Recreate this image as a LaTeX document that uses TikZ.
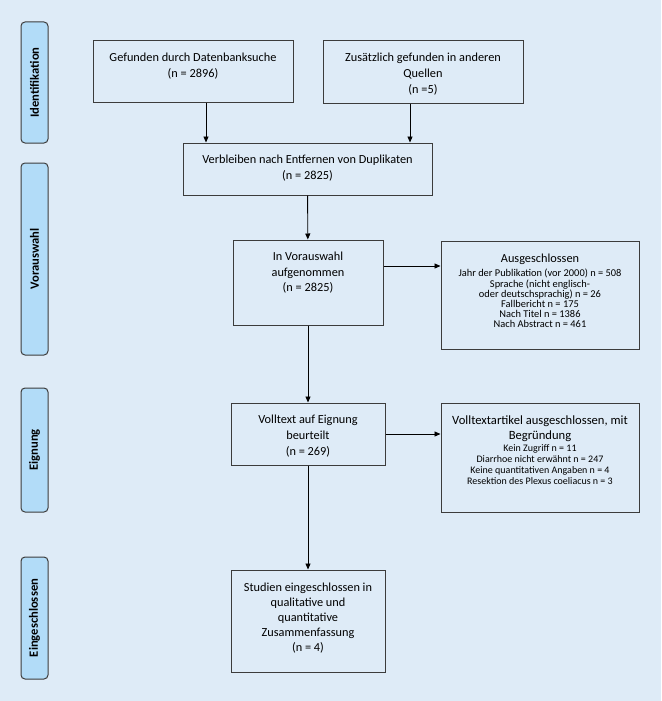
\documentclass[tikz,border=0pt]{standalone}
\usepackage{fontspec}
\setmainfont{Carlito}
\usetikzlibrary{arrows.meta}
\definecolor{bgc}{RGB}{222,235,247}
\definecolor{sidec}{RGB}{178,220,248}
\definecolor{linec}{RGB}{60,60,60}
\begin{document}
\begin{tikzpicture}[x=1pt,y=-1pt,
  boxn/.style={draw=linec, line width=1pt, rectangle, inner sep=0pt},
  txt/.style={anchor=north, align=center, inner sep=0pt, font=\fontsize{12.3}{15.8}\selectfont},
  small/.style={anchor=north, align=center, inner sep=0pt, font=\fontsize{10.4}{10.2}\selectfont},
  sidebox/.style={draw=linec, line width=1pt, fill=sidec, rounded corners=4pt, minimum width=27pt, inner sep=0pt},
  sidetxt/.style={rotate=90, font=\fontsize{12.6}{15}\selectfont\bfseries},
  arr/.style={draw=black, line width=0.9pt, -{Triangle[length=6pt,width=5pt]}}
]
\fill[bgc] (0,0) rectangle (661,701);
\useasboundingbox (0,0) rectangle (661,701);

% side labels
\node[sidebox, minimum height=121pt] (s1) at (34.5,82.5) {};
\node[sidetxt] (s1t) at (s1.center) {Identifikation};
\node[sidebox, minimum height=192pt] (s2) at (34.5,259) {};
\node[sidetxt] (s2t) at (s2.center) {Vorauswahl};
\node[sidebox, minimum height=124pt] (s3) at (34.5,450) {};
\node[sidetxt] (s3t) at (s3.center) {Eignung};
\node[sidebox, minimum height=122pt] (s4) at (34.5,618) {};
\node[sidetxt] (s4t) at (s4.center) {Eingeschlossen};

% boxes
\node[boxn, minimum width=200pt, minimum height=61pt] (b1) at (193,71.5) {};
\node[txt] (b1t) at ([yshift=-12.5pt]b1.north) {Gefunden durch Datenbanksuche\\(n = 2896)};

\node[boxn, minimum width=200pt, minimum height=62pt] (b2) at (423,72) {};
\node[txt] (b2t) at ([yshift=-12.5pt]b2.north) {Zusätzlich gefunden in anderen\\Quellen\\(n =5)};

\node[boxn, minimum width=249pt, minimum height=52pt] (b3) at (307.5,169) {};
\node[txt] (b3t) at ([yshift=-12.5pt]b3.north) {Verbleiben nach Entfernen von Duplikaten\\(n = 2825)};

\node[boxn, minimum width=150pt, minimum height=85pt] (b4) at (308,282.5) {};
\node[txt] (b4t) at ([yshift=-12pt]b4.north) {In Vorauswahl\\aufgenommen\\(n = 2825)};

\node[boxn, minimum width=198pt, minimum height=108pt] (b5) at (540,295) {};
\node[txt] (b5t) at ([yshift=-13.5pt]b5.north) {Ausgeschlossen};
\node[small] (b5s) at ([yshift=-4pt]b5t.south) {Jahr der Publikation (vor 2000) n = 508\\Sprache (nicht englisch-\\oder deutschsprachig) n = 26\\Fallbericht n = 175\\Nach Titel n = 1386\\Nach Abstract n = 461};

\node[boxn, minimum width=154pt, minimum height=62pt] (b6) at (308,434) {};
\node[txt] (b6t) at ([yshift=-12.5pt]b6.north) {Volltext auf Eignung\\beurteilt\\(n = 269)};

\node[boxn, minimum width=198pt, minimum height=109pt] (b7) at (540,457.5) {};
\node[txt, font=\fontsize{12.6}{15}\selectfont] (b7t) at ([yshift=-13pt]b7.north) {Volltextartikel ausgeschlossen, mit\\Begründung};
\node[small, font=\fontsize{10}{11}\selectfont] (b7s) at ([yshift=-3pt]b7t.south) {Kein Zugriff n = 11\\Diarrhoe nicht erwähnt n = 247\\Keine quantitativen Angaben n = 4\\Resektion des Plexus coeliacus n = 3};

\node[boxn, minimum width=154pt, minimum height=102pt] (b8) at (308,621) {};
\node[txt, font=\fontsize{12.3}{15}\selectfont] (b8t) at ([yshift=-13pt]b8.north) {Studien eingeschlossen in\\qualitative und\\quantitative\\Zusammenfassung\\(n = 4)};

% connector helper coordinates
\coordinate (xa) at (206,0);
\coordinate (xb) at (410,0);
\coordinate (ya) at (0,266);

\draw[arr] (b1.south -| xa) -- (b3.north -| xa);
\draw[arr] (b2.south -| xb) -- (b3.north -| xb);
\draw[arr] (b3) -- (b4);
\draw[arr] (b4.east |- ya) -- (b5.west |- ya);
\draw[arr] (b4) -- (b6);
\draw[arr] (b6.east) -- (b7.west |- b6.east);
\draw[arr] (b6) -- (b8);
\end{tikzpicture}
\end{document}
